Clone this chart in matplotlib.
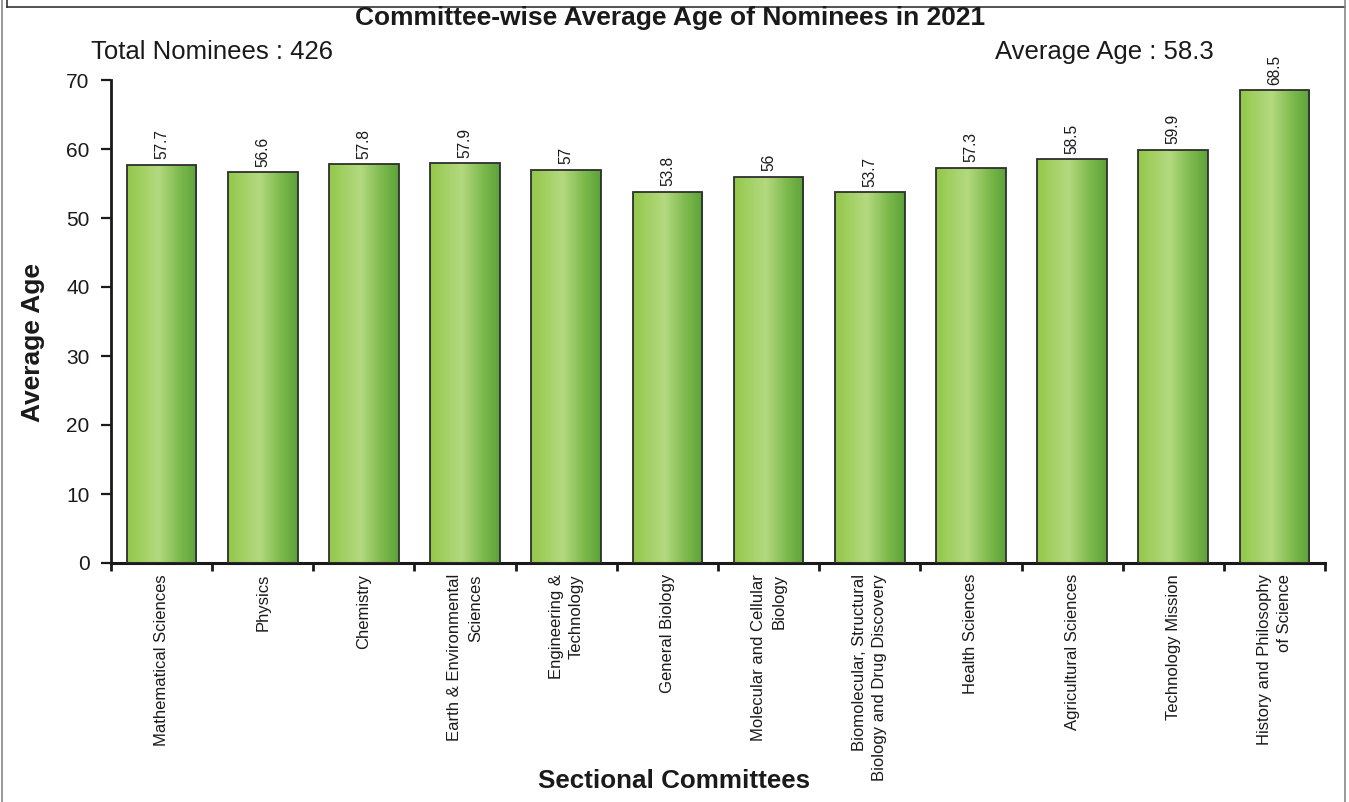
import numpy as np
import matplotlib
matplotlib.use("Agg")
import matplotlib.pyplot as plt
from matplotlib.colors import LinearSegmentedColormap
from matplotlib.lines import Line2D

committees = [
    "Mathematical Sciences",
    "Physics",
    "Chemistry",
    "Earth & Environmental\nSciences",
    "Engineering &\nTechnology",
    "General Biology",
    "Molecular and Cellular\nBiology",
    "Biomolecular, Structural\nBiology and Drug Discovery",
    "Health Sciences",
    "Agricultural Sciences",
    "Technology Mission",
    "History and Philosophy\nof Science",
]
average_age = [57.7, 56.6, 57.8, 57.9, 57, 53.8, 56, 53.7, 57.3, 58.5, 59.9, 68.5]
y_ticks = [0, 10, 20, 30, 40, 50, 60, 70]

total_nominees = 426
overall_average = 58.3

FONT = ["Liberation Sans", "DejaVu Sans"]

W, H = 1349, 802
fig = plt.figure(figsize=(W / 100, H / 100), dpi=100)
ax = fig.add_axes([111 / W, (H - 563) / H, (1325 - 111) / W, (563 - 80) / H])

bar_cmap = LinearSegmentedColormap.from_list(
    "bar_green",
    [(0.0, "#93c84a"), (0.45, "#b4d980"), (0.75, "#7fba4d"), (1.0, "#5ba239")],
)
grad = np.linspace(0, 1, 256).reshape(1, -1)

x = np.arange(len(committees))
bar_w = 0.69
bars = ax.bar(x, average_age, width=bar_w, color="none", edgecolor="#2e2e2e",
              linewidth=1.3, zorder=3)
for b in bars:
    x0, y0 = b.get_x(), b.get_y()
    im = ax.imshow(grad, cmap=bar_cmap, aspect="auto", interpolation="bilinear",
                   extent=(x0, x0 + b.get_width(), y0, y0 + b.get_height()),
                   zorder=2)
    im.set_clip_path(b)

for xi, v in zip(x, average_age):
    ax.annotate(f"{v:g}", (xi, v), xytext=(0, 4), textcoords="offset points",
                rotation=90, ha="center", va="bottom", fontsize=11.2,
                family=FONT, color="#1a1a1a", annotation_clip=False, zorder=4)

ax.set_xlim(-0.5, len(committees) - 0.5)
ax.set_ylim(0, 70)
ax.set_yticks(y_ticks)
ax.set_yticklabels([str(t) for t in y_ticks], family=FONT, fontsize=15, color="#1a1a1a")

ax.set_xticks(np.arange(len(committees) + 1) - 0.5)
ax.set_xticklabels([])
ax.set_xticks(x, minor=True)
ax.set_xticklabels(committees, minor=True, rotation=90, ha="center", va="top",
                   multialignment="right", family=FONT, fontsize=12,
                   color="#1a1a1a", linespacing=1.45)
ax.tick_params(axis="x", which="major", direction="out", length=6, width=2,
               color="#1a1a1a")
ax.tick_params(axis="x", which="minor", length=0, pad=8)
ax.tick_params(axis="y", direction="out", length=7.5, width=1.6, pad=8,
               color="#1a1a1a")

for s in ("top", "right"):
    ax.spines[s].set_visible(False)
ax.spines["left"].set_linewidth(2)
ax.spines["bottom"].set_linewidth(2.2)
ax.spines["left"].set_color("#1a1a1a")
ax.spines["bottom"].set_color("#1a1a1a")
ax.set_facecolor("none")

fig.text(670 / W, 1 - 18 / H, "Committee-wise Average Age of Nominees in 2021",
         ha="center", va="center", fontsize=19, fontweight="bold", family=FONT,
         color="#1a1a1a")
fig.text(212 / W, 1 - 52 / H, f"Total Nominees : {total_nominees}",
         ha="center", va="center", fontsize=18.5, family=FONT, color="#1a1a1a")
fig.text(1104 / W, 1 - 52 / H, f"Average Age : {overall_average}",
         ha="center", va="center", fontsize=18.5, family=FONT, color="#1a1a1a")
fig.text(33 / W, 1 - 343 / H, "Average Age", rotation=90, ha="center",
         va="center", fontsize=19, fontweight="bold", family=FONT, color="#1a1a1a")
fig.text(674 / W, 1 - 781 / H, "Sectional Committees", ha="center", va="center",
         fontsize=18.7, fontweight="bold", family=FONT, color="#1a1a1a")

# page frame
def fline(xs, ys, color, lw):
    fig.add_artist(Line2D([v / W for v in xs], [1 - v / H for v in ys],
                          transform=fig.transFigure, color=color, linewidth=lw))

fline([7, 1345], [7, 7], "#333333", 1.2)
fline([7, 7], [0, 7], "#333333", 1.2)
fline([1.5, 1.5], [0, H], "#888888", 1.2)
fline([1345, 1345], [0, H], "#888888", 1.2)

fig.savefig("out.png", dpi=100)
